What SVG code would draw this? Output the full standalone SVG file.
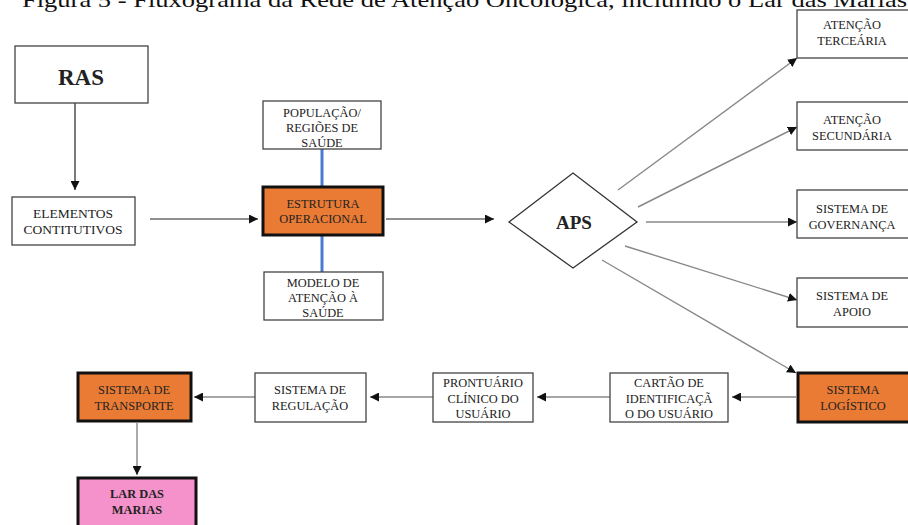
<svg xmlns="http://www.w3.org/2000/svg" width="908" height="525" viewBox="0 0 908 525">
<defs>
<style>
.t{font-family:"Liberation Serif","Times New Roman",serif;font-size:12.4px;fill:#222;text-anchor:middle}
.b{font-weight:bold}
.box{fill:#fff;stroke:#444;stroke-width:1.3}
.or{fill:#EA7B35;stroke:#111;stroke-width:3}
.pk{fill:#F592CB;stroke:#111;stroke-width:3}
.c{fill:none;stroke:#888;stroke-width:1.4}
.k{fill:none;stroke:#222;stroke-width:1.2}
.bl{fill:none;stroke:#4A7BD0;stroke-width:3}
</style>
<marker id="a" viewBox="0 0 10 10" refX="10" refY="5" markerWidth="9" markerHeight="9" markerUnits="userSpaceOnUse" orient="auto">
<path d="M0,0 L10,5 L0,10 z" fill="#111"/>
</marker>
</defs>
<rect width="908" height="525" fill="#fff"/>
<text x="22" y="7" font-family="Liberation Serif,Times New Roman,serif" font-size="21" fill="#111" textLength="885" lengthAdjust="spacingAndGlyphs">Figura 5 - Fluxograma da Rede de Atenção Oncológica, incluindo o Lar das Marias</text>

<g id="connectors">
<line class="k" x1="75" y1="103" x2="75" y2="190" marker-end="url(#a)"/>
<line class="k" x1="150" y1="219" x2="258" y2="219" marker-end="url(#a)"/>
<line class="bl" x1="322" y1="149" x2="322" y2="187"/>
<line class="bl" x1="322" y1="235" x2="322" y2="272"/>
<line class="k" x1="386" y1="219" x2="494" y2="219" marker-end="url(#a)"/>
<line class="c" x1="618" y1="190" x2="797" y2="58" marker-end="url(#a)"/>
<line class="c" x1="638" y1="207" x2="797" y2="127" marker-end="url(#a)"/>
<line class="c" x1="646" y1="222" x2="797" y2="222" marker-end="url(#a)"/>
<line class="c" x1="625" y1="246" x2="797" y2="300" marker-end="url(#a)"/>
<line class="c" x1="602" y1="260" x2="796" y2="373" marker-end="url(#a)"/>
<line class="c" x1="796" y1="397" x2="732" y2="397" marker-end="url(#a)"/>
<line class="c" x1="610" y1="397" x2="537" y2="397" marker-end="url(#a)"/>
<line class="c" x1="433" y1="397" x2="370" y2="397" marker-end="url(#a)"/>
<line class="c" x1="255" y1="397" x2="194" y2="397" marker-end="url(#a)"/>
<line class="c" x1="137" y1="423" x2="137" y2="475" marker-end="url(#a)"/>
</g>

<g id="ras"><rect class="box" x="15" y="46" width="133" height="57"/><text class="t b" x="81" y="85" style="font-size:23px">RAS</text></g>
<g id="elementos"><rect class="box" x="12" y="197" width="123" height="48"/><text class="t" x="73" y="218" style="font-size:13.5px">ELEMENTOS</text><text class="t" x="73" y="234" style="font-size:13.5px">CONTITUTIVOS</text></g>
<g id="populacao"><rect class="box" x="263" y="101" width="118" height="48"/><text class="t" x="322" y="117">POPULAÇÃO/</text><text class="t" x="322" y="132">REGIÕES DE</text><text class="t" x="322" y="147">SAÚDE</text></g>
<g id="estrutura"><rect class="or" x="263" y="187" width="120" height="48"/><text class="t" x="323" y="208">ESTRUTURA</text><text class="t" x="323" y="223">OPERACIONAL</text></g>
<g id="modelo"><rect class="box" x="264" y="272" width="119" height="48"/><text class="t" x="323" y="287">MODELO DE</text><text class="t" x="323" y="302">ATENÇÃO À</text><text class="t" x="323" y="317">SAÚDE</text></g>
<g id="aps"><polygon points="509,222 573,173 637,222 573,268" fill="#fff" stroke="#333" stroke-width="1.3"/><text class="t b" x="574" y="229" style="font-size:19px">APS</text></g>
<g id="terciaria"><rect class="box" x="797" y="10" width="115" height="48"/><text class="t" x="852" y="29">ATENÇÃO</text><text class="t" x="852" y="45">TERCEÁRIA</text></g>
<g id="secundaria"><rect class="box" x="797" y="102" width="115" height="48"/><text class="t" x="852" y="124">ATENÇÃO</text><text class="t" x="852" y="140">SECUNDÁRIA</text></g>
<g id="governanca"><rect class="box" x="797" y="190" width="115" height="48"/><text class="t" x="852" y="213">SISTEMA DE</text><text class="t" x="852" y="229">GOVERNANÇA</text></g>
<g id="apoio"><rect class="box" x="797" y="278" width="115" height="49"/><text class="t" x="852" y="300">SISTEMA DE</text><text class="t" x="852" y="316">APOIO</text></g>
<g id="logistico"><rect class="or" x="798" y="373" width="115" height="49"/><text class="t" x="853" y="394">SISTEMA</text><text class="t" x="853" y="410">LOGÍSTICO</text></g>
<g id="cartao"><rect class="box" x="610" y="373" width="118" height="49"/><text class="t" x="669" y="387">CARTÃO DE</text><text class="t" x="669" y="403">IDENTIFICAÇÃ</text><text class="t" x="669" y="418">O DO USUÁRIO</text></g>
<g id="prontuario"><rect class="box" x="433" y="373" width="100" height="49"/><text class="t" x="483" y="387">PRONTUÁRIO</text><text class="t" x="483" y="403">CLÍNICO DO</text><text class="t" x="483" y="418">USUÁRIO</text></g>
<g id="regulacao"><rect class="box" x="255" y="373" width="111" height="49"/><text class="t" x="310" y="394">SISTEMA DE</text><text class="t" x="310" y="410">REGULAÇÃO</text></g>
<g id="transporte"><rect class="or" x="78" y="373" width="113" height="48"/><text class="t" x="134" y="394">SISTEMA DE</text><text class="t" x="134" y="410">TRANSPORTE</text></g>
<g id="lar"><rect class="pk" x="78" y="478" width="118" height="50"/><text class="t b" x="137" y="498">LAR DAS</text><text class="t b" x="137" y="514">MARIAS</text></g>
</svg>
